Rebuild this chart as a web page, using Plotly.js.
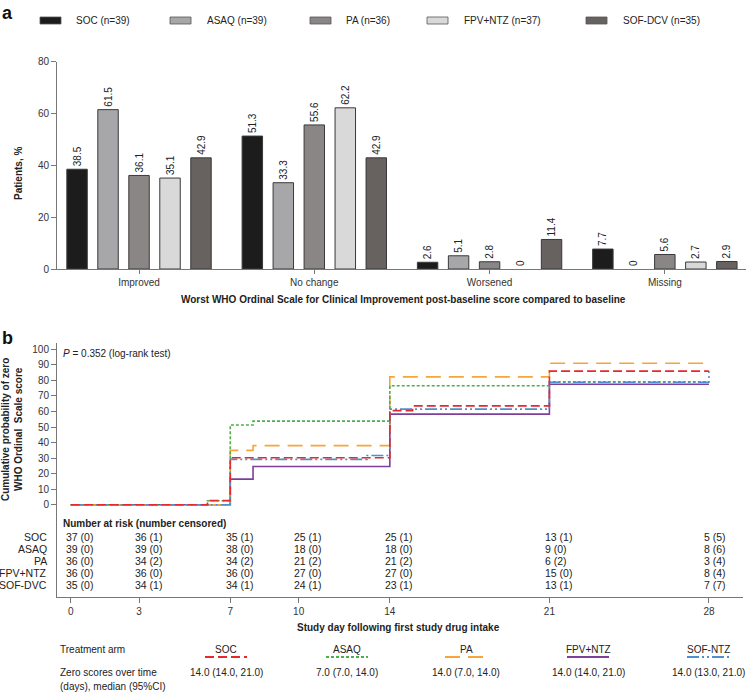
<!DOCTYPE html>
<html>
<head>
<meta charset="utf-8">
<script src="https://cdn.plot.ly/plotly-3.0.1.min.js"></script>
<style>html,body{margin:0;padding:0;background:#fff}</style>
</head>
<body>
<div id="chart" style="width:748px;height:692px"></div>
<script>
const W = 748, H = 692
const FONT = 'Liberation Sans, Arial, sans-serif'

// panel a data
const categories = ['Improved', 'No change', 'Worsened', 'Missing']
const barNames = ['SOC (n=39)', 'ASAQ (n=39)', 'PA (n=36)', 'FPV+NTZ (n=37)', 'SOF-DCV (n=35)']
const socPct = [38.5, 51.3, 2.6, 7.7]
const asaqPct = [61.5, 33.3, 5.1, 0]
const paPct = [36.1, 55.6, 2.8, 5.6]
const fpvPct = [35.1, 62.2, 0, 2.7]
const sofPct = [42.9, 42.9, 11.4, 2.9]
const barColors = ['#1c1c1c', '#a7a6a8', '#898685', '#d9d9d9', '#67625f']

// panel b data (step curves)
const socDays = [0, 6, 7, 14, 15, 21, 28]
const socProb = [0, 2.7, 30.2, 60.5, 63.6, 85.9, 85.9]
const asaqDays = [0, 6, 7, 8, 14, 21, 28]
const asaqProb = [0, 2.6, 51.3, 53.8, 76.5, 79, 79]
const paDays = [0, 7, 8, 14, 21, 28]
const paProb = [0, 35, 38, 82.2, 91, 91]
const fpvDays = [0, 7, 8, 14, 21, 28]
const fpvProb = [0, 16.5, 24.6, 58.3, 77.5, 77.5]
const sofDays = [0, 7, 13, 14, 21, 28, 28]
const sofProb = [0, 29.2, 31.7, 61.5, 78.8, 78.8, 85.9]

const riskDays = [0, 3, 7, 10, 14, 21, 28]
const riskRows = ['SOC', 'ASAQ', 'PA', 'FPV+NTZ', 'SOF-DVC']
const socRisk = ['37 (0)', '36 (1)', '35 (1)', '25 (1)', '25 (1)', '13 (1)', '5 (5)']
const asaqRisk = ['39 (0)', '39 (0)', '38 (0)', '18 (0)', '18 (0)', '9 (0)', '8 (6)']
const paRisk = ['36 (0)', '34 (2)', '34 (2)', '21 (2)', '21 (2)', '6 (2)', '3 (4)']
const fpvRisk = ['36 (0)', '36 (0)', '36 (0)', '27 (0)', '27 (0)', '15 (0)', '8 (4)']
const sofRisk = ['35 (0)', '34 (1)', '34 (1)', '24 (1)', '23 (1)', '13 (1)', '7 (7)']

const armNames = ['SOC', 'ASAQ', 'PA', 'FPV+NTZ', 'SOF-NTZ']
const armMedians = ['14.0 (14.0, 21.0)', '7.0 (7.0, 14.0)', '14.0 (7.0, 14.0)', '14.0 (14.0, 21.0)', '14.0 (13.0, 21.0)']
const armColors = ['#e8282b', '#4cb04a', '#f7a53a', '#7d3f98', '#4d8fd1']
const armDash = ['9px,4px', '3px,2px', '15px,8px', 'solid', '12px,3px,2px,3px,2px,3px']

const px = p => p / W
const py = p => 1 - p / H

const data = []

// bars
const barSeries = [socPct, asaqPct, paPct, fpvPct, sofPct]
barSeries.forEach((vals, i) => {
    data.push({
        type: 'bar',
        x: categories,
        y: vals,
        name: barNames[i],
        marker: {color: barColors[i], line: {color: '#3a3a3a', width: vals.map(v => v ? 1 : 0)}},
        text: vals.map(v => String(v)),
        textposition: 'outside',
        textangle: -90,
        constraintext: 'none',
        cliponaxis: false,
        textfont: {size: 10, color: '#222', family: FONT},
        xaxis: 'x', yaxis: 'y',
        showlegend: false,
        hoverinfo: 'none'
    })
})

// curves - purple first so the rest sit on top
const curves = [
    {d: fpvDays, p: fpvProb, i: 3},
    {d: paDays, p: paProb, i: 2},
    {d: asaqDays, p: asaqProb, i: 1},
    {d: sofDays, p: sofProb, i: 4},
    {d: socDays, p: socProb, i: 0},
]
curves.forEach(c => {
    data.push({
        type: 'scatter', mode: 'lines',
        x: c.d, y: c.p,
        line: {shape: 'hv', color: armColors[c.i], width: 1.6, dash: armDash[c.i]},
        xaxis: 'x2', yaxis: 'y2',
        showlegend: false, hoverinfo: 'none'
    })
})

const annotations = []
const shapes = []
const ann = (x, y, text, opts) => Object.assign({
    x: px(x), y: py(y), xref: 'paper', yref: 'paper', text: text, showarrow: false,
    xanchor: 'left', yanchor: 'middle', font: {size: 10, color: '#222', family: FONT}
}, opts || {})

// panel labels
annotations.push(ann(0, 13, '<b>a</b>', {font: {size: 18, color: '#111', family: FONT}}))
annotations.push(ann(0, 338, '<b>b</b>', {font: {size: 18, color: '#111', family: FONT}}))

// legend for panel a
const swatchX = [40, 170, 310, 427, 586]
const legTextX = [74, 205, 344, 462, 621]
barNames.forEach((n, i) => {
    shapes.push({type: 'rect', xref: 'paper', yref: 'paper',
        x0: px(swatchX[i]), x1: px(swatchX[i] + 21), y0: py(24), y1: py(17),
        fillcolor: barColors[i], line: {color: '#555', width: 0.8}})
    annotations.push(ann(legTextX[i], 20.5, n))
})

// axis titles
annotations.push(ann(19, 174, '<b>Patients, %</b>', {xanchor: 'center', textangle: -90}))
annotations.push(ann(403, 300, '<b>Worst WHO Ordinal Scale for Clinical Improvement post-baseline score compared to baseline</b>', {xanchor: 'center'}))
annotations.push(ann(12, 430, '<b>Cumulative probability of zero<br>WHO Ordinal  Scale score</b>', {xanchor: 'center', textangle: -90}))
annotations.push(ann(398, 627, '<b>Study day following first study drug intake</b>', {xanchor: 'center'}))

annotations.push(ann(61, 353, '<i>P</i> = 0.352 (log-rank test)'))
annotations.push(ann(61, 523, '<b>Number at risk (number censored)</b>'))

// risk table
const riskSeries = [socRisk, asaqRisk, paRisk, fpvRisk, sofRisk]
const rowY = [537, 549, 561, 573, 585]
riskRows.forEach((r, ri) => {
    annotations.push(ann(49, rowY[ri], r, {xanchor: 'right', font: {size: 10.5, color: '#222', family: FONT}}))
    riskSeries[ri].forEach((t, j) => {
        annotations.push({x: riskDays[j], xref: 'x2', y: py(rowY[ri]), yref: 'paper',
            text: t, showarrow: false, xanchor: 'left', yanchor: 'middle', xshift: -6.5,
            font: {size: 10.5, color: '#222', family: FONT}})
    })
})

// bottom summary table
const armX = [226, 347, 466, 588, 708]
annotations.push(ann(58, 649, 'Treatment arm'))
annotations.push(ann(58, 672, 'Zero scores over time'))
annotations.push(ann(58, 686, '(days), median (95%CI)'))
armNames.forEach((n, i) => {
    annotations.push(ann(armX[i], 649, n, {xanchor: 'center'}))
    annotations.push(ann(armX[i], 672, armMedians[i], {xanchor: 'center'}))
    shapes.push({type: 'line', xref: 'paper', yref: 'paper',
        x0: px(armX[i] - 21), x1: px(armX[i] + 21), y0: py(657), y1: py(657),
        line: {color: armColors[i], width: 2, dash: armDash[i]}})
})

const axisCommon = {
    showline: true, linecolor: '#777', linewidth: 1,
    ticks: 'outside', ticklen: 5, tickcolor: '#777',
    showgrid: false, zeroline: false,
    tickfont: {size: 10, color: '#333', family: FONT},
    fixedrange: true
}

const layout = {
    width: W, height: H,
    margin: {l: 0, r: 0, t: 0, b: 0},
    paper_bgcolor: '#fff', plot_bgcolor: '#fff',
    font: {family: FONT, size: 10, color: '#222'},
    showlegend: false,
    barmode: 'group',
    bargap: 0.116,
    bargroupgap: 0.34,
    xaxis: Object.assign({}, axisCommon, {
        domain: [px(57), px(746)], range: [-0.468, 3.463], anchor: 'y',
        type: 'category', ticklen: 4
    }),
    yaxis: Object.assign({}, axisCommon, {
        domain: [py(269), py(61.7)], range: [0, 80], anchor: 'x',
        tickvals: [0, 20, 40, 60, 80]
    }),
    xaxis2: Object.assign({}, axisCommon, {
        domain: [px(57), px(742.7)], range: [-0.601, 29.48], anchor: 'y2',
        tickvals: riskDays
    }),
    yaxis2: Object.assign({}, axisCommon, {
        domain: [py(597), py(343)], range: [-59.28, 104], anchor: 'x2',
        tickvals: [0, 10, 20, 30, 40, 50, 60, 70, 80, 90, 100]
    }),
    annotations: annotations,
    shapes: shapes
}

Plotly.newPlot('chart', data, layout, {displayModeBar: false, staticPlot: true})
</script>
</body>
</html>
